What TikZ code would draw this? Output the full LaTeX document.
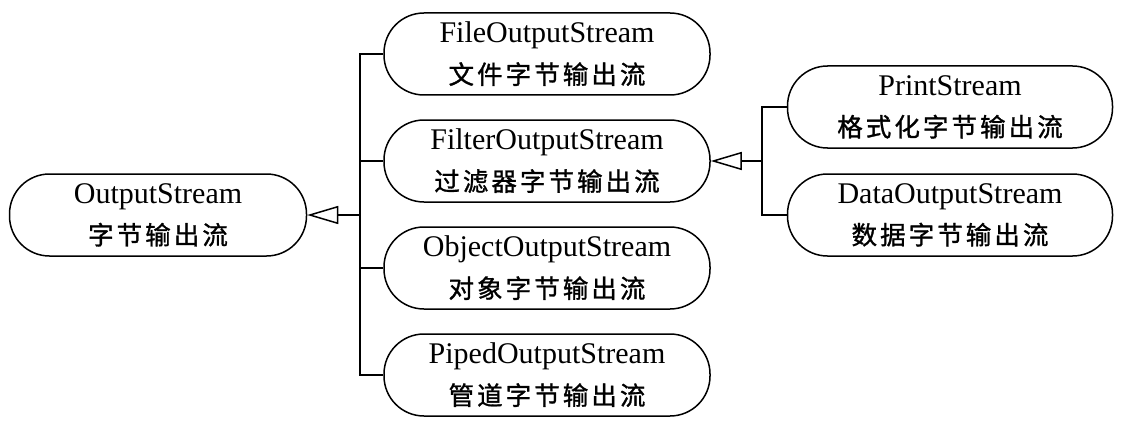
\documentclass[tikz,border=0pt]{standalone}
\usepackage{fontspec}
\setmainfont{Liberation Serif}
\newfontfamily\cjk[LetterSpace=12,FakeBold=1.2]{Noto Sans CJK SC}
\usetikzlibrary{arrows.meta}
\tikzset{
  cls/.style={draw, line width=1.5pt, rounded corners=40pt, minimum height=82pt,
    align=center, inner sep=0pt, font=\fontsize{30}{41}\selectfont},
  conn/.style={line width=1.5pt},
  inherit/.style={conn, -{Triangle[open, length=31pt, width=18pt, line width=1.5pt]}}
}
\newcommand{\zh}[1]{{\cjk\fontsize{25.5}{41}\selectfont #1}}
\begin{document}
\begin{tikzpicture}[x=1pt,y=-1pt]
\useasboundingbox (0,0) rectangle (1123,425);
\node[cls, minimum width=297pt] (os) at (158,215) {OutputStream\\\zh{字节输出流}};
\node[cls, minimum width=326pt] (file) at (547,54) {FileOutputStream\\\zh{文件字节输出流}};
\node[cls, minimum width=326pt] (filter) at (547,161) {FilterOutputStream\\\zh{过滤器字节输出流}};
\node[cls, minimum width=326pt] (obj) at (547,268) {ObjectOutputStream\\\zh{对象字节输出流}};
\node[cls, minimum width=326pt] (piped) at (547,375) {PipedOutputStream\\\zh{管道字节输出流}};
\node[cls, minimum width=325pt] (print) at (950,107) {PrintStream\\\zh{格式化字节输出流}};
\node[cls, minimum width=325pt] (data) at (950,215) {DataOutputStream\\\zh{数据字节输出流}};
\coordinate (b1) at (360,215);
\coordinate (b2) at (762,161);
\draw[conn] (file.west) -| (b1);
\draw[conn] (filter.west) -| (b1);
\draw[conn] (obj.west) -| (b1);
\draw[conn] (piped.west) -| (b1);
\draw[inherit] (b1) -- (os.east);
\draw[conn] (print.west) -| (b2);
\draw[conn] (data.west) -| (b2);
\draw[inherit] (b2) -- (filter.east);
\end{tikzpicture}
\end{document}
